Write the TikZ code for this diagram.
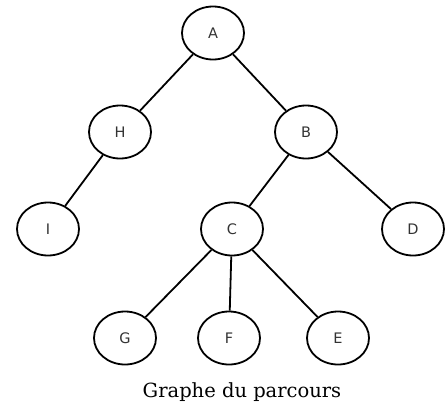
\documentclass[tikz,border=0pt]{standalone}
\usepackage{fontspec}
\newfontfamily\nodefont{DejaVu Sans}
\newfontfamily\capfont{DejaVu Serif}
\usetikzlibrary{shapes.geometric}
\begin{document}
\begin{tikzpicture}[x=1pt,y=-1pt,
  vertex/.style={draw,line width=1.8pt,ellipse,minimum width=62pt,minimum height=53pt,inner sep=0pt,text=black!80,font=\nodefont\fontsize{14.5}{14.5}\selectfont},
  edge/.style={line width=1.8pt}]
\useasboundingbox (0,0) rectangle (446,405);
\node[vertex] (A) at (213,33) {A};
\node[vertex] (H) at (120,132) {H};
\node[vertex] (B) at (306,132) {B};
\node[vertex] (I) at (48,229) {I};
\node[vertex] (C) at (232,229) {C};
\node[vertex] (D) at (413,229) {D};
\node[vertex] (G) at (125,338) {G};
\node[vertex] (F) at (229,338) {F};
\node[vertex] (E) at (338,338) {E};
\draw[edge] (A) -- (H);
\draw[edge] (A) -- (B);
\draw[edge] (H) -- (I);
\draw[edge] (B) -- (C);
\draw[edge] (B) -- (D);
\draw[edge] (C) -- (G);
\draw[edge] (C) -- (F);
\draw[edge] (C) -- (E);
\node[font=\capfont\fontsize{19.5}{19.5}\selectfont,anchor=base] (cap) at (242,397) {Graphe du parcours};
\end{tikzpicture}
\end{document}
